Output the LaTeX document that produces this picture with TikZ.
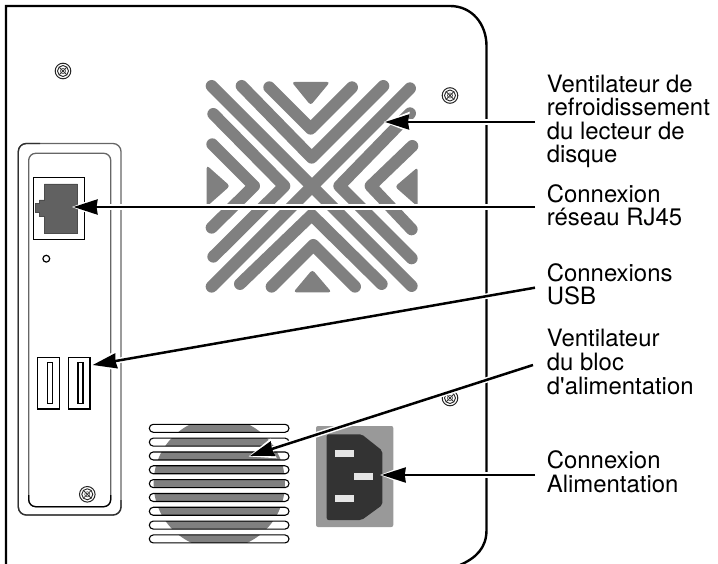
\documentclass[tikz,border=0pt]{standalone}
\usepackage{fontspec}
\setmainfont[Ligatures=TeXOff]{TeX Gyre Heros}
\usetikzlibrary{arrows.meta}
\definecolor{grill}{HTML}{808080}
\definecolor{paneledge}{HTML}{666666}
\definecolor{paneldark}{HTML}{303030}
\tikzset{
  stripe/.style={draw=grill,line width=12pt,line cap=round,line join=round},
  tri/.style={fill=grill,rounded corners=3pt},
  slotbox/.style={draw=black,line width=1.1pt},
  label/.style={anchor=base west,align=left,inner sep=0pt,font=\fontsize{23.9}{23.6}\selectfont},
  conn/.style={draw=black,line width=2.5pt,
    -{Stealth[length=24pt,width=15pt,inset=1pt]},
    preaction={draw=white,line width=5.5pt,shorten >=-2pt,
      -{Stealth[length=26pt,width=19pt,inset=1pt]}}},
}
\newcommand{\myscrew}[2]{%
  \draw[line width=1pt,draw=black!85] (#1,#2) circle (7.8);
  \draw[line width=.9pt,draw=black!85] (#1,#2) circle (5.5);
  \draw[line width=.8pt,draw=black!80] (#1-3.8,#2-3.8) -- (#1+3.8,#2+3.8) (#1-3.8,#2+3.8) -- (#1+3.8,#2-3.8);
  \draw[line width=.6pt,draw=black!70] (#1,#2) circle (2.6);
}
\begin{document}
\begin{tikzpicture}[x=1pt,y=-1pt]
\useasboundingbox (0,0) rectangle (718,564);
% chassis
\draw[line width=2.4pt,line join=miter] (6,570) -- (6,6) -- (450,6)
  .. controls (472,6) and (486.5,24) .. (486.5,46) -- (486.5,530)
  .. controls (486.5,548) and (476,558) .. (460,565);
% screws
\myscrew{63}{71}
\myscrew{450}{95.5}
\myscrew{450}{398}
\myscrew{87.3}{494.3}
% side panel
\draw[draw=paneledge,line width=1.3pt,rounded corners=8pt] (18.3,143.5) rectangle (121,515);
\draw[draw=paneledge,line width=1.3pt,rounded corners=7pt] (28.7,153.3) rectangle (110.7,506.7);
\draw[draw=paneldark,line width=1.3pt,rounded corners=8pt] (40,143.5) -- (18.3,143.5) -- (18.3,515) -- (121,515) -- (121,500);
\draw[draw=black,line width=1.2pt,rounded corners=7pt] (28.7,495) -- (28.7,506.7) -- (110.7,506.7) -- (110.7,495);
% RJ45
\draw[slotbox] (33.7,177.7) rectangle (84.3,239.3);
\draw[fill=black!62,draw=black!70,line width=.8pt] (44.3,184) -- (77.7,184) -- (77.7,233.3) -- (44.3,233.3)
  -- (44.3,216.5) -- (39.3,216.5) -- (39.3,212.7) -- (35,212.7) -- (35,203.5) -- (39.3,203.5) -- (39.3,200) -- (44.3,200) -- cycle;
\draw[line width=1.2pt] (46.3,258.7) circle (3.4);
% USB
\draw[slotbox] (37.7,357.3) rectangle (59.3,409);
\draw[slotbox] (47.3,362.7) rectangle (52.3,403.7);
\draw[slotbox] (68.7,357.3) rectangle (90,409);
\draw[slotbox] (78,362.7) rectangle (83,403.7);
% drive fan grill
\begin{scope}[shift={(180,60)},x=.3333pt,y=-.3333pt]
  \draw[stripe] (95,78) -- (695,678);
  \draw[stripe] (690,85) -- (95,680);
  \draw[stripe] (185,78) -- (395,293) -- (610,78);
  \draw[stripe] (268,82) -- (392,206) -- (516,82);
  \draw[stripe] (180,672) -- (395,465) -- (605,672);
  \draw[stripe] (275,680) -- (400,555) -- (525,680);
  \draw[stripe] (100,162) -- (313,378) -- (100,590);
  \draw[stripe] (97,253) -- (222,378) -- (95,503);
  \draw[stripe] (690,160) -- (478,378) -- (695,595);
  \draw[stripe] (697,258) -- (572,378) -- (695,508);
  \fill[tri] (335,66) -- (450,66) -- (392,136) -- cycle;
  \fill[tri] (340,697) -- (455,697) -- (397,629) -- cycle;
  \fill[tri] (80,316) -- (80,440) -- (150,378) -- cycle;
  \fill[tri] (713,322) -- (713,440) -- (645,380) -- cycle;
\end{scope}
% PSU fan
\foreach \yy in {0,...,8} {
  \begin{scope}
    \clip[rounded corners=4pt] (149.3,424.3+\yy*13.83) rectangle (289,432.3+\yy*13.83);
    \fill[grill] (219.3,483.3) circle (65.7);
  \end{scope}
  \draw[slotbox,rounded corners=4pt] (149.3,424.3+\yy*13.83) rectangle (289,432.3+\yy*13.83);
}
% power socket
\fill[fill=black!40,rounded corners=2pt] (316,426) rectangle (393.3,527);
\fill[fill=black!80,rounded corners=2pt] (326.7,434.3) -- (361.7,434.3) -- (382.3,450.7) -- (382.3,505) -- (361.7,520) -- (326.7,520) -- cycle;
\fill[black!10] (335,450) rectangle (354,457);
\fill[black!10] (354,473) rectangle (373,480);
\fill[black!10] (335,495) rectangle (354,502);
% labels
\node[label] (lfan) at (546.7,163) {Ventilateur de\\refroidissement\\du lecteur de\\disque};
\node[label] (lrj) at (546.7,226) {Connexion\\réseau RJ45};
\node[label] (lusb) at (546.7,305) {Connexions\\USB};
\node[label] (lpsu) at (546.7,394) {Ventilateur\\du bloc\\d'alimentation};
\node[label] (lpow) at (546.7,492) {Connexion\\Alimentation};
% connector ends
\coordinate (efan) at (535,122);
\coordinate (erj) at (535,207);
\coordinate (eusb) at (535,287.7);
\coordinate (epsu) at (533,365);
\coordinate (epow) at (535,475);
\coordinate (tfan) at (385,122);
\coordinate (trj) at (73.5,207);
\coordinate (tusb) at (92.7,365);
\coordinate (tpsu) at (250,456);
\coordinate (tpow) at (381.7,475);
\draw[conn] (efan) -- (tfan);
\draw[conn] (erj) -- (trj);
\draw[conn] (eusb) -- (tusb);
\draw[conn] (epsu) -- (tpsu);
\draw[conn] (epow) -- (tpow);
\end{tikzpicture}
\end{document}
